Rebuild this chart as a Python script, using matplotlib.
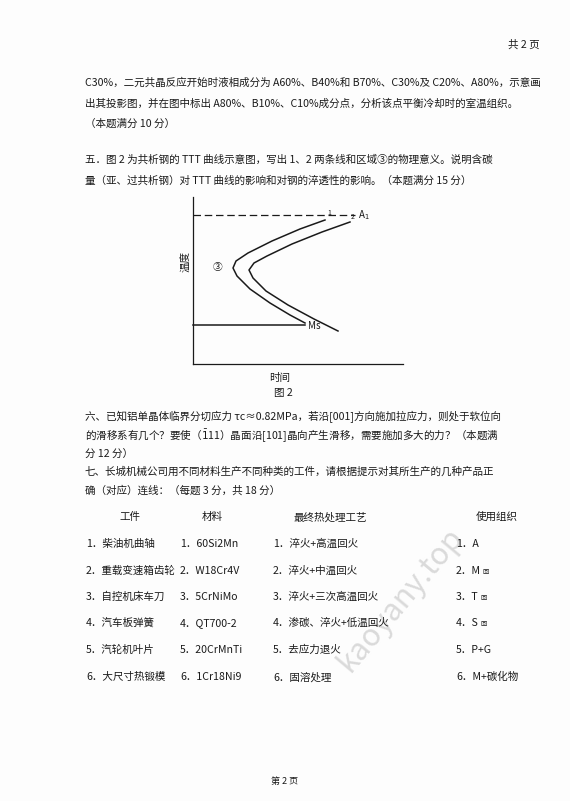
import matplotlib.pyplot as plt

plt.rcParams['font.family'] = ['Noto Sans CJK SC', 'DejaVu Sans']

FS = 7.6
INK = "#1a1a1a"

# paragraph text lines: (y, text)
para_lines = [
    (83, "C30%，二元共晶反应开始时液相成分为 A60%、B40%和 B70%、C30%及 C20%、A80%，示意画"),
    (104, "出其投影图，并在图中标出 A80%、B10%、C10%成分点，分析该点平衡冷却时的室温组织。"),
    (124, "（本题满分 10 分）"),
    (160, "五．图 2 为共析钢的 TTT 曲线示意图，写出 1、2 两条线和区域③的物理意义。说明含碳"),
    (181, "量（亚、过共析钢）对 TTT 曲线的影响和对钢的淬透性的影响。（本题满分 15 分）"),
    (417, "六、已知铝单晶体临界分切应力 τc≈0.82MPa，若沿[001]方向施加拉应力，则处于软位向"),
    (436, "的滑移系有几个？要使（$\\bar{1}$11）晶面沿[101]晶向产生滑移，需要施加多大的力？（本题满"),
    (454, "分 12 分）"),
    (472, "七、长城机械公司用不同材料生产不同种类的工件，请根据提示对其所生产的几种产品正"),
    (491, "确（对应）连线：（每题 3 分，共 18 分）"),
]

# TTT schematic traced points (page pixel coords)
curve1_x = [325, 300, 272, 248, 236, 233, 237, 250, 270, 290, 305]
curve1_y = [220, 229, 241, 253, 261, 268, 276, 289, 303, 315, 323]
curve2_x = [350, 322, 292, 267, 254, 249, 253, 266, 288, 314, 338]
curve2_y = [222, 232, 244, 256, 263, 270, 278, 291, 305, 319, 331]

headers = ["工件", "材料", "最终热处理工艺", "使用组织"]
workpieces = ["柴油机曲轴", "重载变速箱齿轮", "自控机床车刀", "汽车板弹簧", "汽轮机叶片", "大尺寸热锻模"]
materials = ["60Si2Mn", "W18Cr4V", "5CrNiMo", "QT700-2", "20CrMnTi", "1Cr18Ni9"]
processes = ["淬火+高温回火", "淬火+中温回火", "淬火+三次高温回火", "渗碳、淬火+低温回火", "去应力退火", "固溶处理"]
structures = ["A", "M", "T", "S", "P+G", "M+碳化物"]
struct_sub = ["", "回", "回", "回", "", ""]
row_y = [544, 571, 597, 623, 650, 677]

fig = plt.figure(figsize=(5.70, 8.01), dpi=100)
ax = fig.add_axes([0, 0, 1, 1])
ax.set_xlim(0, 570)
ax.set_ylim(801, 0)
ax.axis("off")
fig.patch.set_facecolor("#fdfdfd")

# faint watermark
ax.text(400, 600, "kaoyany.top", fontsize=22, color="#9a9a9a", alpha=0.35,
        rotation=50, ha="center", va="center")

ax.text(540, 45, "共 2 页", fontsize=FS, color=INK, ha="right", va="center")
for y, s in para_lines:
    ax.text(85, y, s, fontsize=FS, color=INK, ha="left", va="center")

# figure 2
ax.plot([193, 193], [197, 364], color=INK, lw=0.9)
ax.plot([193, 403], [364, 364], color=INK, lw=0.9)
ax.plot([193, 355], [215, 215], color=INK, lw=0.9, ls=(0, (6, 3)))
ax.text(358, 215, "A$_1$", fontsize=7, color=INK, va="center")
ax.plot(curve1_x, curve1_y, color=INK, lw=1.1)
ax.plot(curve2_x, curve2_y, color=INK, lw=1.1)
ax.text(327, 217, "1", fontsize=5, color=INK, ha="left", va="bottom")
ax.text(351, 221, "2", fontsize=5, color=INK, ha="left", va="bottom")
ax.plot([193, 305], [325, 325], color=INK, lw=1.1)
ax.text(308, 326, "Ms", fontsize=7, color=INK, va="center")
ax.text(218, 267, "③", fontsize=7, color=INK, ha="center", va="center")
ax.text(186, 262, "温度", fontsize=FS, color=INK, rotation=90, ha="center", va="center")
ax.text(280, 378, "时间", fontsize=FS, color=INK, ha="center", va="center")
ax.text(283, 393, "图 2", fontsize=FS, color=INK, ha="center", va="center")

# table
for x, h in zip([130, 212, 330, 497], headers):
    ax.text(x, 517, h, fontsize=FS, color=INK, ha="center", va="center")
for i, y in enumerate(row_y):
    n = f"{i + 1}．"
    ax.text(86, y, n + workpieces[i], fontsize=FS, color=INK, va="center")
    ax.text(180, y, n + materials[i], fontsize=FS, color=INK, va="center")
    ax.text(273, y, n + processes[i], fontsize=FS, color=INK, va="center")
    t = ax.text(456, y, n + structures[i], fontsize=FS, color=INK, va="center")
    if struct_sub[i]:
        ax.annotate(struct_sub[i], xy=(1, 0), xycoords=t, xytext=(1, 0),
                    textcoords="offset points", fontsize=4.5, color=INK,
                    ha="left", va="bottom")

ax.text(285, 781, "第 2 页", fontsize=6.5, color=INK, ha="center", va="center")

fig.savefig("out.png", dpi=100)
